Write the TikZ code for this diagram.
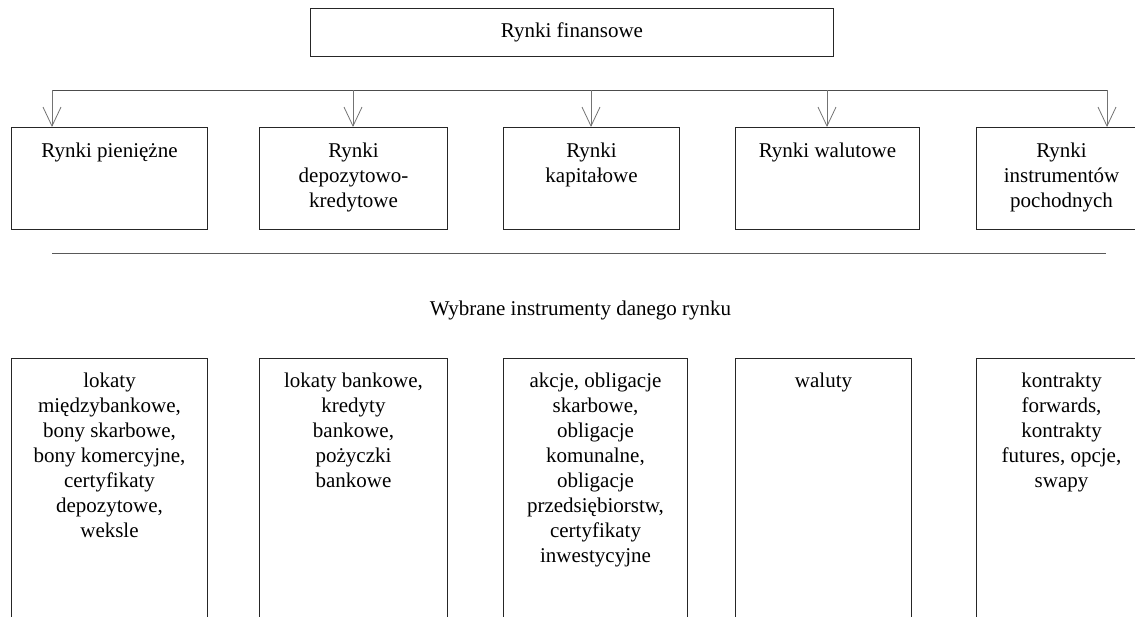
\documentclass[tikz,border=0pt]{standalone}
\usepackage{fontspec}
\setmainfont{Liberation Serif}
\usetikzlibrary{arrows.meta}
\begin{document}
\begin{tikzpicture}[x=1pt,y=-1pt,
  box/.style={draw=black!85, line width=1pt, inner sep=0pt, anchor=north west},
  txt/.style={font=\fontsize{21}{25}\selectfont, align=center, anchor=north, inner sep=0pt},
  arr/.style={draw=black!55, line width=0.8pt, -{Straight Barb[length=19pt,width=18pt]}},
  busline/.style={draw=black!70, line width=1pt},
  rulestyle/.style={draw=black!65, line width=1pt}]
\useasboundingbox (0,0) rectangle (1135,616);
\begin{scope}
\clip (0,0) rectangle (1135,616);

% main box
\node[box, minimum width=523pt, minimum height=48pt,
      font=\fontsize{21}{25}\selectfont] (fin) at (310,8) {Rynki finansowe};

% market types
\node[box, minimum width=196pt, minimum height=102pt] (m1) at (11,127) {};
\node[box, minimum width=188pt, minimum height=102pt] (m2) at (259,127) {};
\node[box, minimum width=176pt, minimum height=102pt] (m3) at (503,127) {};
\node[box, minimum width=184pt, minimum height=102pt] (m4) at (735,127) {};
\node[box, minimum width=170pt, minimum height=102pt] (m5) at (976,127) {};

\node[txt] (m1t) at ([yshift=-16pt]m1.north) {Rynki pieniężne};
\node[txt] (m2t) at ([yshift=-16pt]m2.north) {Rynki\\depozytowo-\\kredytowe};
\node[txt] (m3t) at ([yshift=-16pt]m3.north) {Rynki\\kapitałowe};
\node[txt] (m4t) at ([yshift=-16pt]m4.north) {Rynki walutowe};
\node[txt] (m5t) at ([yshift=-16pt]m5.north) {Rynki\\instrumentów\\pochodnych};

% distribution bus with arrows
\coordinate (a1) at (52,90);
\coordinate (a2) at (353,90);
\coordinate (a3) at (591,90);
\coordinate (a4) at (827,90);
\coordinate (a5) at (1107,90);
\draw[busline] (a1) -- (a5);
\draw[arr] (a1) -- (a1 |- m1.north);
\draw[arr] (a2) -- (a2 |- m2.north);
\draw[arr] (a3) -- (a3 |- m3.north);
\draw[arr] (a4) -- (a4 |- m4.north);
\draw[arr] (a5) -- (a5 |- m5.north);

% separator and caption
\coordinate (s1) at (52,253);
\coordinate (s2) at (1106,253);
\draw[rulestyle] (s1) -- (s2);
\node[font=\fontsize{21}{25}\selectfont, anchor=base, inner sep=0pt] (cap) at (580.5,315)
  {Wybrane instrumenty danego rynku};

% instruments
\node[box, minimum width=196pt, minimum height=280pt] (i1) at (11,358) {};
\node[box, minimum width=188pt, minimum height=280pt] (i2) at (259,358) {};
\node[box, minimum width=184pt, minimum height=280pt] (i3) at (503,358) {};
\node[box, minimum width=176pt, minimum height=280pt] (i4) at (735,358) {};
\node[box, minimum width=170pt, minimum height=280pt] (i5) at (976,358) {};

\node[txt] (i1t) at ([yshift=-15pt]i1.north) {lokaty\\międzybankowe,\\bony skarbowe,\\bony komercyjne,\\certyfikaty\\depozytowe,\\weksle};
\node[txt] (i2t) at ([yshift=-15pt]i2.north) {lokaty bankowe,\\kredyty\\bankowe,\\pożyczki\\bankowe};
\node[txt] (i3t) at ([yshift=-15pt]i3.north) {akcje, obligacje\\skarbowe,\\obligacje\\komunalne,\\obligacje\\przedsiębiorstw,\\certyfikaty\\inwestycyjne};
\node[txt] (i4t) at ([yshift=-15pt]i4.north) {waluty};
\node[txt] (i5t) at ([yshift=-15pt]i5.north) {kontrakty\\forwards,\\kontrakty\\futures, opcje,\\swapy};
\end{scope}
\end{tikzpicture}
\end{document}
